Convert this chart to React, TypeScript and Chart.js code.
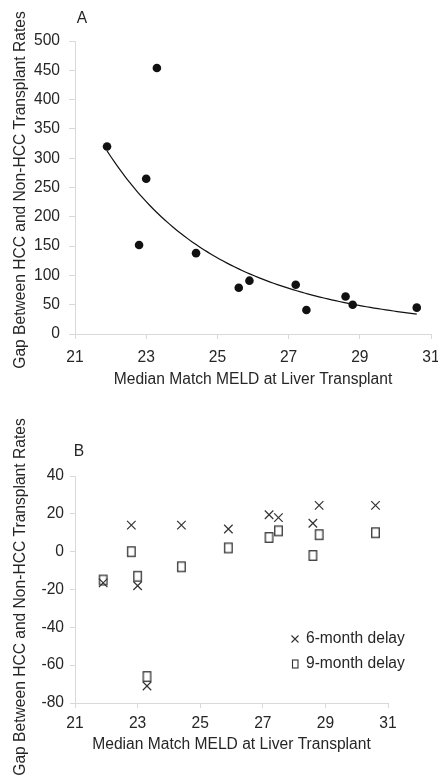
import React, { useEffect, useRef } from "react";
import { Chart, registerables } from "chart.js";

Chart.register(...registerables);

// ---------- Panel A data ----------
const meldA = [21.9, 23.3, 23.0, 22.8, 24.4, 25.6, 25.9, 27.2, 27.5, 28.6, 28.8, 30.6];
const gapA = [320, 454, 265, 152, 138, 79, 91, 84, 41, 64, 50, 45];

// ---------- Panel B data ----------
const meldB = [21.9, 22.8, 23.0, 23.3, 24.4, 25.9, 27.2, 27.5, 28.6, 28.8, 30.6];
const delay6 = [-16.5, 14, -18, -71, 14, 12, 19.5, 18, 15, 24.5, 24.5];
const delay9 = [-15, 0, -13, -66, -8, 2, 7.5, 11, -2, 9, 10];

const seriesLabels = ["6-month delay", "9-month delay"];
const xTitle = "Median Match MELD at Liver Transplant";
const yTitle = "Gap Between HCC and Non-HCC Transplant Rates";

const FONT = "'Liberation Sans', Arial, sans-serif";
const FS = 15.6;
const TEXT = "#262626";
const AXIS = "#d9d9d9";
const MARK = "#333333";

// Power trendline (least squares on ln x, ln y), as produced by the spreadsheet
function powerTrend(xs: number[], ys: number[]) {
  const lx = xs.map(Math.log);
  const ly = ys.map(Math.log);
  const n = xs.length;
  const mx = lx.reduce((a, b) => a + b, 0) / n;
  const my = ly.reduce((a, b) => a + b, 0) / n;
  let sxy = 0, sxx = 0;
  for (let i = 0; i < n; i++) {
    sxy += (lx[i] - mx) * (ly[i] - my);
    sxx += (lx[i] - mx) * (lx[i] - mx);
  }
  const b = sxy / sxx;
  const a = Math.exp(my - b * mx);
  const lo = Math.min(...xs), hi = Math.max(...xs);
  const pts: { x: number; y: number }[] = [];
  const steps = 80;
  for (let i = 0; i <= steps; i++) {
    const x = lo + ((hi - lo) * i) / steps;
    pts.push({ x, y: a * Math.pow(x, b) });
  }
  return pts;
}

function makeAxes(cfg: {
  xmin: number; xmax: number; xstep: number;
  ymin: number; ymax: number; ystep: number;
  xHeight: number; yWidth: number;
  yTickLen: number; yPad: number; xTickLen: number; xPad: number;
  xTitlePadBottom: number;
}) {
  const font = { family: FONT, size: FS };
  return {
    x: {
      type: "linear" as const,
      position: "bottom" as const,
      min: cfg.xmin,
      max: cfg.xmax,
      ticks: { stepSize: cfg.xstep, font, color: TEXT, padding: cfg.xPad, maxRotation: 0 },
      grid: { display: true, drawOnChartArea: false, drawTicks: true, tickLength: cfg.xTickLen, color: AXIS, lineWidth: 1 },
      border: { display: true, color: AXIS, width: 1 },
      title: { display: true, text: xTitle, font, color: TEXT, padding: { top: 0, bottom: cfg.xTitlePadBottom } },
      afterFit(s: any) {
        s.height = cfg.xHeight;
        s.paddingLeft = 0;
        s.paddingRight = 0;
      },
    },
    y: {
      type: "linear" as const,
      position: "left" as const,
      min: cfg.ymin,
      max: cfg.ymax,
      ticks: { stepSize: cfg.ystep, font, color: TEXT, padding: cfg.yPad },
      grid: { display: true, drawOnChartArea: false, drawTicks: true, tickLength: cfg.yTickLen, color: AXIS, lineWidth: 1 },
      border: { display: true, color: AXIS, width: 1 },
      title: { display: false, text: yTitle },
      afterFit(s: any) {
        s.width = cfg.yWidth;
        s.paddingTop = 0;
        s.paddingBottom = 0;
      },
    },
  };
}

// Panel letter and rotated y-axis title
function panelText(label: string, lx: number, ly: number, tx: number, ty: number) {
  return {
    id: "panelText" + label,
    afterDraw(chart: any) {
      const ctx = chart.ctx;
      ctx.save();
      ctx.font = `${FS}px ${FONT}`;
      ctx.fillStyle = TEXT;
      ctx.textAlign = "center";
      ctx.textBaseline = "middle";
      ctx.fillText(label, lx, ly);
      ctx.translate(tx, ty);
      ctx.rotate(-Math.PI / 2);
      ctx.fillText(yTitle, 0, 0);
      ctx.restore();
    },
  };
}

function rectMarker(w: number, h: number, lw: number) {
  const c = document.createElement("canvas");
  c.width = Math.ceil(w + lw + 2);
  c.height = Math.ceil(h + lw + 2);
  const ctx = c.getContext("2d")!;
  ctx.strokeStyle = MARK;
  ctx.lineWidth = lw;
  ctx.strokeRect((c.width - w) / 2, (c.height - h) / 2, w, h);
  return c;
}

const legendPlugin = {
  id: "insideLegend",
  afterDraw(chart: any) {
    const { ctx, chartArea } = chart;
    const mx = chartArea.left + 220;
    const tx = chartArea.left + 231;
    const y1 = chartArea.top + 163;
    const y2 = chartArea.top + 188;
    ctx.save();
    ctx.strokeStyle = MARK;
    ctx.lineWidth = 1.1;
    ctx.beginPath();
    ctx.moveTo(mx - 3.5, y1 - 3.5);
    ctx.lineTo(mx + 3.5, y1 + 3.5);
    ctx.moveTo(mx + 3.5, y1 - 3.5);
    ctx.lineTo(mx - 3.5, y1 + 3.5);
    ctx.stroke();
    ctx.strokeRect(mx - 2.5, y2 - 4, 5.5, 8);
    ctx.font = `${FS}px ${FONT}`;
    ctx.fillStyle = TEXT;
    ctx.textAlign = "left";
    ctx.textBaseline = "middle";
    ctx.fillText(seriesLabels[0], tx, y1);
    ctx.fillText(seriesLabels[1], tx, y2);
    ctx.restore();
  },
};

export default function App() {
  const refA = useRef<HTMLCanvasElement>(null);
  const refB = useRef<HTMLCanvasElement>(null);

  useEffect(() => {
    const chartA = new Chart(refA.current!, {
      type: "scatter",
      data: {
        datasets: [
          {
            label: "Gap",
            data: meldA.map((x, i) => ({ x, y: gapA[i] })),
            pointRadius: 4.3,
            pointBackgroundColor: "#111",
            pointBorderColor: "#111",
            pointBorderWidth: 0,
            showLine: false,
          },
          {
            label: "Power trend",
            data: powerTrend(meldA, gapA),
            showLine: true,
            pointRadius: 0,
            borderColor: "#111",
            borderWidth: 1.2,
            fill: false,
          } as any,
        ],
      },
      options: {
        animation: false,
        responsive: false,
        devicePixelRatio: 1,
        layout: { padding: { top: 41, right: 7, bottom: 0, left: 0 } },
        plugins: { legend: { display: false }, tooltip: { enabled: false } },
        scales: makeAxes({
          xmin: 21, xmax: 31, xstep: 2,
          ymin: 0, ymax: 500, ystep: 50,
          xHeight: 56, yWidth: 75,
          yTickLen: 6, yPad: 9, xTickLen: 5, xPad: 9.5,
          xTitlePadBottom: 1,
        }) as any,
      },
      plugins: [panelText("A", 82, 19, 21, 190)],
    });

    const rect = rectMarker(7.5, 9.5, 1.3);
    const chartB = new Chart(refB.current!, {
      type: "scatter",
      data: {
        datasets: [
          {
            label: seriesLabels[0],
            data: meldB.map((x, i) => ({ x, y: delay6[i] })),
            pointStyle: "crossRot",
            pointRadius: 6,
            pointBorderColor: MARK,
            pointBorderWidth: 1.2,
          },
          {
            label: seriesLabels[1],
            data: meldB.map((x, i) => ({ x, y: delay9[i] })),
            pointStyle: rect as any,
            pointRadius: 5,
            pointBorderColor: MARK,
          },
        ],
      },
      options: {
        animation: false,
        responsive: false,
        devicePixelRatio: 1,
        layout: { padding: { top: 86, right: 50, bottom: 0, left: 0 } },
        plugins: { legend: { display: false }, tooltip: { enabled: false } },
        scales: makeAxes({
          xmin: 21, xmax: 31, xstep: 2,
          ymin: -80, ymax: 40, ystep: 20,
          xHeight: 74, yWidth: 75,
          yTickLen: 5, yPad: 6, xTickLen: 5, xPad: 6.5,
          xTitlePadBottom: 23,
        }) as any,
      },
      plugins: [panelText("B", 79, 62, 21, 207), legendPlugin],
    });

    return () => {
      chartA.destroy();
      chartB.destroy();
    };
  }, []);

  return (
    <div style={{ position: "absolute", left: 0, top: 0, width: 438, height: 777, overflow: "hidden", background: "#fff" }}>
      <canvas ref={refA} width={438} height={390} style={{ position: "absolute", left: 0, top: 0, display: "block" }} />
      <canvas ref={refB} width={438} height={387} style={{ position: "absolute", left: 0, top: 390, display: "block" }} />
    </div>
  );
}
